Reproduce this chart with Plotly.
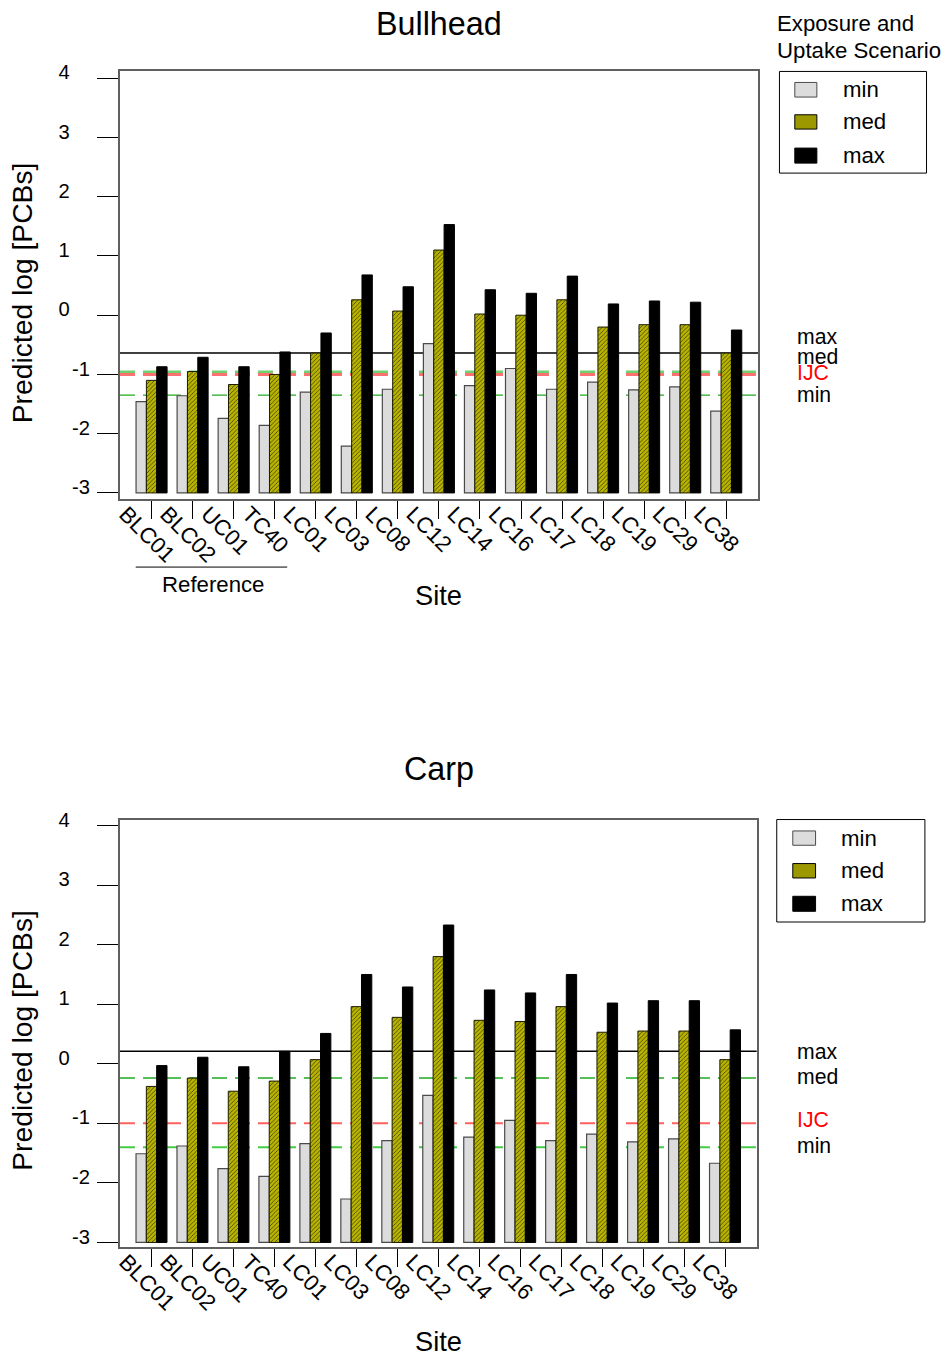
import plotly.graph_objects as go

# Sampling sites (reference sites first, then Lake Chapala sites)
sites = ["BLC01", "BLC02", "UC01", "TC40", "LC01", "LC03", "LC08", "LC12",
         "LC14", "LC16", "LC17", "LC18", "LC19", "LC29", "LC38"]

# Predicted log [PCBs] for bullhead under each exposure/uptake scenario
bull_min = [-1.46, -1.36, -1.74, -1.86, -1.30, -2.21, -1.25, -0.48,
            -1.19, -0.90, -1.25, -1.13, -1.26, -1.21, -1.62]
bull_med = [-1.10, -0.95, -1.17, -1.00, -0.64, 0.26, 0.07, 1.10,
            0.02, 0.00, 0.26, -0.20, -0.16, -0.16, -0.64]
bull_max = [-0.87, -0.71, -0.87, -0.62, -0.30, 0.68, 0.48, 1.53,
            0.43, 0.37, 0.66, 0.19, 0.24, 0.22, -0.25]

# Predicted log [PCBs] for carp
carp_min = [-1.51, -1.38, -1.76, -1.89, -1.34, -2.27, -1.29, -0.53,
            -1.23, -0.95, -1.29, -1.18, -1.31, -1.26, -1.67]
carp_med = [-0.38, -0.24, -0.46, -0.29, 0.07, 0.96, 0.78, 1.80,
            0.73, 0.71, 0.96, 0.53, 0.55, 0.55, 0.07]
carp_max = [-0.03, 0.11, -0.05, 0.21, 0.51, 1.50, 1.29, 2.33,
            1.24, 1.19, 1.50, 1.02, 1.06, 1.06, 0.57]

# Threshold lines: scenario thresholds and the IJC guideline
bull_thresholds = {"max": -0.64, "med": -0.96, "IJC": -1.00, "min": -1.35}
carp_thresholds = {"max": 0.21, "med": -0.24, "IJC": -1.00, "min": -1.40}

scenarios = ["min", "med", "max"]
y_ticks = [-3, -2, -1, 0, 1, 2, 3, 4]
BAR_BASE = -3

W, H = 945, 1357
# Page placement: origin offset (px) and scale of the drawing on the page
OX, OY, S = 9.7, 12.3, 0.9905
FONT = "Liberation Sans, Arial, sans-serif"

MIN_FILL, MIN_LINE = "#dcdcdc", "#4a4a4a"
MED_FILL, MED_HATCH = "#b8b400", "#444200"
MAX_FILL = "#000000"


def px(x):
    return (x - OX) / S / W


def py(y):
    return 1 - (y - OY) / S / H


def fs(size):
    return size / S


fig = go.Figure()


def add_bars(xa, ya, mins, meds, maxs):
    series = [
        ("min", mins, dict(color=MIN_FILL, line=dict(color=MIN_LINE, width=1.2))),
        ("med", meds, dict(color=MED_FILL, line=dict(color="#1a1a00", width=1),
                           pattern=dict(shape="/", fgcolor=MED_HATCH, bgcolor=MED_FILL,
                                        size=3, solidity=0.28, fillmode="replace"))),
        ("max", maxs, dict(color=MAX_FILL, line=dict(color="#000000", width=1))),
    ]
    for name, vals, marker in series:
        fig.add_trace(go.Bar(
            x=sites, y=[v - BAR_BASE for v in vals], base=BAR_BASE,
            name=name, marker=marker, showlegend=False,
            xaxis=xa, yaxis=ya,
            customdata=vals, hovertemplate="%{x}: %{customdata}<extra>" + name + "</extra>",
        ))


add_bars("x", "y", bull_min, bull_med, bull_max)
add_bars("x2", "y2", carp_min, carp_med, carp_max)

# Non-negative labels carry trailing en spaces so they sit left of the negative ones
tick_text = [f"{v}\u2002\u2002" if v >= 0 else f"{v}" for v in y_ticks]

common_x = dict(
    type="category", range=[-0.77, 14.773], showline=True, mirror=True,
    linecolor="#606060", linewidth=2, ticks="outside", ticklen=18, tickwidth=1,
    tickcolor="#000000", tickangle=45, ticklabelshift=-26, ticklabelstandoff=-27,
    tickfont=dict(family=FONT, size=fs(22), color="#000"),
    showgrid=False, zeroline=False, fixedrange=True,
)
common_y = dict(
    showline=True, mirror=True, linecolor="#606060", linewidth=2,
    ticks="outside", ticklen=21, tickwidth=1.2, tickcolor="#000000",
    tickvals=y_ticks, ticktext=tick_text, ticklabelstandoff=3, ticklabelshift=-6,
    tickfont=dict(family=FONT, size=fs(20), color="#000"),
    showgrid=False, zeroline=False, fixedrange=True,
)

fig.update_layout(
    width=W, height=H, margin=dict(l=0, r=0, t=0, b=0),
    paper_bgcolor="white", plot_bgcolor="white",
    barmode="group", bargap=0.244, bargroupgap=0,
    font=dict(family=FONT, color="#000"),
    xaxis=dict(domain=[px(123.3), px(759.3)], anchor="y", **common_x),
    yaxis=dict(domain=[py(499.3), py(71.7)], anchor="x", range=[-3.108, 4.115], **common_y),
    xaxis2=dict(domain=[px(123.3), px(758)], anchor="y2", **common_x),
    yaxis2=dict(domain=[py(1246.7), py(820)], anchor="x2", range=[-3.08, 4.09], **common_y),
)

shapes = []
annotations = []


def threshold_lines(xa, ya, th, styles):
    for key, (color, width, dash) in styles.items():
        shapes.append(dict(type="line", xref=f"{xa} domain", yref=ya, x0=0, x1=1,
                           y0=th[key], y1=th[key], layer="below",
                           line=dict(color=color, width=width, dash=dash)))


threshold_lines("x", "y", bull_thresholds, {
    "med": ("#70d070", 3, "15px,8px"),
    "IJC": ("#ff7070", 3, "15px,8px"),
    "min": ("#22aa22", 1.3, "15px,8px"),
    "max": ("#000000", 1.5, "solid"),
})
threshold_lines("x2", "y2", carp_thresholds, {
    "med": ("#22aa22", 1.5, "15px,8px"),
    "IJC": ("#ff6060", 2, "15px,8px"),
    "min": ("#44cc44", 2, "15px,8px"),
    "max": ("#000000", 1.5, "solid"),
})


def side_labels(ya, th, shifts):
    for key, shift in shifts.items():
        annotations.append(dict(
            xref="paper", yref=ya, x=px(796), y=th[key], yshift=shift,
            xanchor="left", yanchor="middle", showarrow=False, text=key,
            font=dict(family=FONT, size=fs(21), color="#ff0000" if key == "IJC" else "#000000"),
        ))


side_labels("y", bull_thresholds, {"max": 17, "med": 16, "IJC": 2, "min": 1})
side_labels("y2", carp_thresholds, {"max": 0, "med": 1.5, "IJC": 4, "min": 1.5})


def text(x, y, s, size, angle=0, xanchor="center", color="#000000"):
    annotations.append(dict(xref="paper", yref="paper", x=px(x), y=py(y), text=s,
                            showarrow=False, textangle=angle, xanchor=xanchor,
                            yanchor="middle", font=dict(family=FONT, size=fs(size), color=color)))


# Panel titles and axis titles
text(441, 24, "Bullhead", 32)
text(441, 769, "Carp", 32)
text(441, 595, "Site", 27)
text(441, 1341, "Site", 27)
text(26, 293, "Predicted log [PCBs]", 28, angle=-90)
text(26, 1040, "Predicted log [PCBs]", 28, angle=-90)

# Bracket under the reference sites
shapes.append(dict(type="line", xref="paper", yref="paper", x0=px(139), x1=px(290),
                   y0=py(567), y1=py(567), line=dict(color="#000000", width=1)))
text(216, 584, "Reference", 22)

# Legends
text(776, 24, "Exposure and", 22, xanchor="left")
text(776, 51, "Uptake Scenario", 22, xanchor="left")


def legend_box(x0, x1, y0, y1, sw_x0, sw_x1, rows, text_x):
    shapes.append(dict(type="rect", xref="paper", yref="paper", x0=px(x0), x1=px(x1),
                       y0=py(y1), y1=py(y0), line=dict(color="#000000", width=1),
                       fillcolor="rgba(0,0,0,0)"))
    fills = {"min": (MIN_FILL, MIN_LINE), "med": ("#9c9900", "#000000"),
             "max": (MAX_FILL, "#000000")}
    for name, (r0, r1) in zip(scenarios, rows):
        fc, lc = fills[name]
        shapes.append(dict(type="rect", xref="paper", yref="paper", x0=px(sw_x0), x1=px(sw_x1),
                           y0=py(r1), y1=py(r0), fillcolor=fc, line=dict(color=lc, width=1)))
        text(text_x, (r0 + r1) / 2, name, 22, xanchor="left")


legend_box(780.7, 927.3, 71.7, 173.3, 796, 818,
           [(82.7, 97.3), (115, 129.3), (148.3, 163.3)], 842)
legend_box(778, 925.7, 819.3, 921.7, 794, 816.7,
           [(830.7, 845), (863.3, 877.7), (896, 911)], 840)

fig.update_layout(shapes=shapes, annotations=annotations)

# Pin the figure to the top-left corner of the page
pin_script = (
    "document.documentElement.style.overflow='hidden';"
    "document.body.style.margin='0';"
    "var d=document.getElementById('{plot_id}');"
    "d.style.position='fixed';d.style.left='0px';d.style.top='0px';"
)
fig.write_html("out.html", post_script=pin_script)
